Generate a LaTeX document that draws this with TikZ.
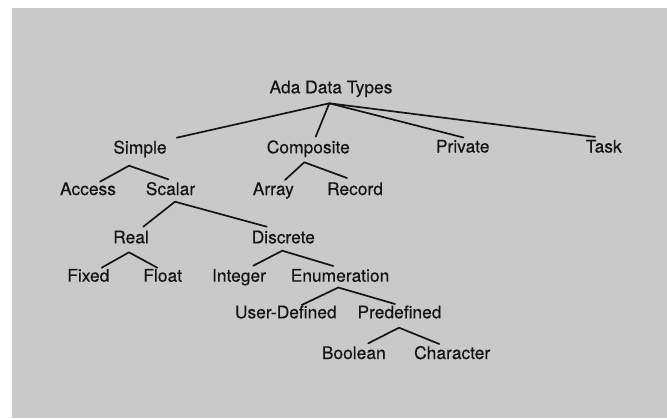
\documentclass[tikz,border=0pt]{standalone}
\usepackage{fontspec}
\newfontfamily\lblfont{TeX Gyre Heros}[FakeBold=0.4]
\definecolor{paper}{RGB}{201,201,201}
\definecolor{ink}{RGB}{20,20,20}
\begin{document}
\begin{tikzpicture}[x=1pt,y=-1pt,
  lbl/.style={anchor=base,inner sep=0pt,text=ink,font=\lblfont\fontsize{17.4}{20}\selectfont},
  edge/.style={draw=ink,line width=1.7pt,line cap=round,line join=round}]
\useasboundingbox (0,0) rectangle (667,418);
\fill[white] (0,0) rectangle (667,418);
\fill[paper] (12,8) rectangle (667,418);
% nodes
\node[lbl] (ada) at (331,93.3) {Ada Data Types};
\node[lbl] (simple) at (140,153.5) {Simple};
\node[lbl] (composite) at (308.3,153.3) {Composite};
\node[lbl] (private) at (462.7,152.5) {Private};
\node[lbl] (task) at (603.7,152.5) {Task};
\node[lbl] (access) at (88,195) {Access};
\node[lbl] (scalar) at (170.5,195) {Scalar};
\node[lbl] (array) at (273.3,195) {Array};
\node[lbl] (record) at (355,195) {Record};
\node[lbl] (real) at (131,243.3) {Real};
\node[lbl] (discrete) at (283.3,243.3) {Discrete};
\node[lbl] (fixed) at (88.3,281.7) {Fixed};
\node[lbl] (float) at (162.7,281.7) {Float};
\node[lbl] (integer) at (239,281.7) {Integer};
\node[lbl] (enum) at (340,281.7) {Enumeration};
\node[lbl] (userdef) at (285.8,318.3) {User-Defined};
\node[lbl] (predef) at (399.5,318.3) {Predefined};
\node[lbl] (boolean) at (353.8,359) {Boolean};
\node[lbl] (character) at (452.2,359) {Character};
% branch points
\coordinate (ada-j) at ([shift={(-1.7,10)}]ada.base);
\coordinate (simple-j) at ([shift={(-11,12.2)}]simple.base);
\coordinate (composite-j) at ([shift={(-4,9)}]composite.base);
\coordinate (scalar-j) at ([shift={(4.5,6.7)}]scalar.base);
\coordinate (real-j) at ([shift={(-2,9)}]real.base);
\coordinate (discrete-j) at ([shift={(-1,7.4)}]discrete.base);
\coordinate (enum-j) at ([shift={(-1.7,5.8)}]enum.base);
\coordinate (predef-j) at ([shift={(-0.5,9.4)}]predef.base);
% connectors
\draw[edge] ([shift={(36.7,-15.8)}]simple.base) -- (ada-j) -- ([shift={(7.4,-16.6)}]composite.base);
\draw[edge] (ada-j) -- ([shift={(0.6,-15)}]private.base);
\draw[edge] (ada-j) -- ([shift={(-8.7,-15.6)}]task.base);
\draw[edge] ([shift={(12,-13.3)}]access.base) -- (simple-j) -- ([shift={(-2.2,-15.7)}]scalar.base);
\draw[edge] ([shift={(11.7,-15)}]array.base) -- (composite-j) -- ([shift={(-8,-17)}]record.base);
\draw[edge] ([shift={(12.3,-16.6)}]real.base) -- (scalar-j) -- ([shift={(-16.6,-16.6)}]discrete.base);
\draw[edge] ([shift={(13.4,-14)}]fixed.base) -- (real-j) -- ([shift={(-5.4,-14)}]float.base);
\draw[edge] ([shift={(14.3,-16)}]integer.base) -- (discrete-j) -- ([shift={(-6.7,-15.7)}]enum.base);
\draw[edge] ([shift={(15.9,-13.3)}]userdef.base) -- (enum-j) -- ([shift={(-4.5,-14.3)}]predef.base);
\draw[edge] ([shift={(14.5,-15.7)}]boolean.base) -- (predef-j) -- ([shift={(-12.9,-15)}]character.base);
\end{tikzpicture}
\end{document}
